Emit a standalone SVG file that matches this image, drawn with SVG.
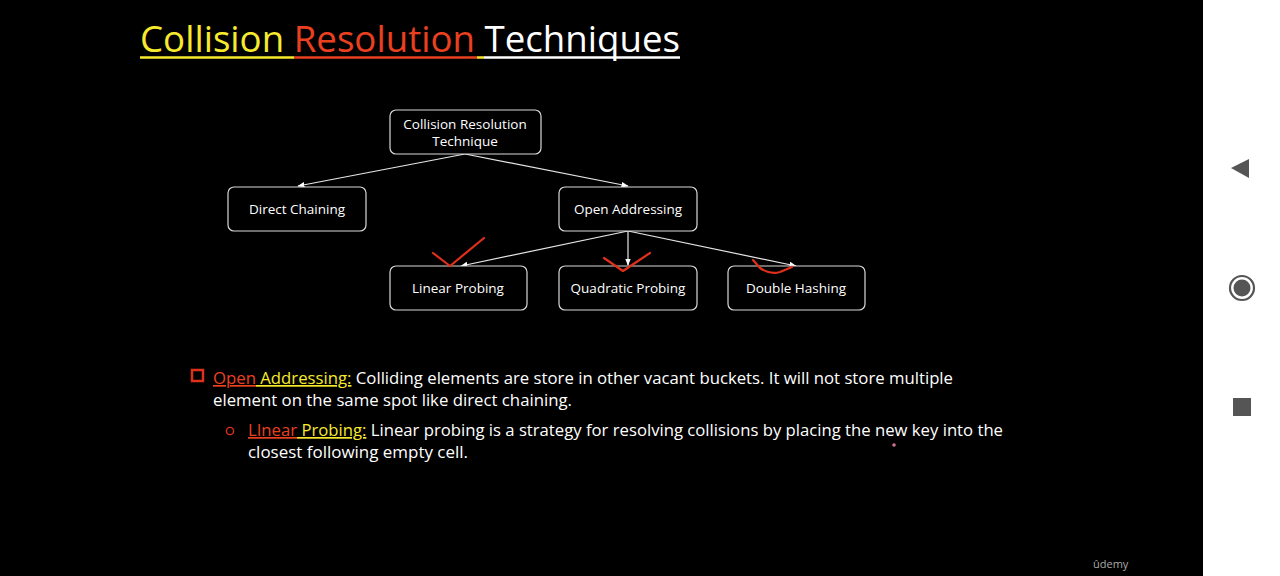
<svg xmlns="http://www.w3.org/2000/svg" width="1280" height="576" viewBox="0 0 1280 576">
<style>
.node rect{fill:#000;stroke:#d9d9d9;stroke-width:1.2}
.node text{fill:#fff;font-family:"Open Sans","Liberation Sans",sans-serif;font-size:13.5px;text-anchor:middle}
.conn line{stroke:#e6e6e6;stroke-width:1.2}
.body{font-family:"Open Sans","Liberation Sans",sans-serif;font-size:17px;fill:#fff}
.check{fill:none;stroke:#e0301c;stroke-width:2.2;stroke-linecap:round;stroke-linejoin:round}
</style>
<defs>
<marker id="ah" viewBox="0 0 10 10" refX="9" refY="5" markerWidth="6" markerHeight="6" orient="auto">
<path d="M0,1 L10,5 L0,9 Z" fill="#fff"/>
</marker>
</defs>
<rect x="0" y="0" width="1280" height="576" fill="#000"/>
<rect x="1203" y="0" width="77" height="576" fill="#fff"/>
<g id="title">
<text x="140" y="52" font-family="Open Sans,Liberation Sans,sans-serif" font-size="37" textLength="540" lengthAdjust="spacingAndGlyphs"><tspan fill="#f7ea2d">Collision </tspan><tspan fill="#ea4020">Resolution </tspan><tspan fill="#fff">Techniques</tspan></text>
<line x1="140" y1="57.5" x2="294" y2="57.5" stroke="#f7ea2d" stroke-width="2.5"/>
<line x1="294" y1="57.5" x2="477" y2="57.5" stroke="#ea4020" stroke-width="2.5"/>
<line x1="477" y1="57.5" x2="484" y2="57.5" stroke="#f7ea2d" stroke-width="2.5"/>
<line x1="484" y1="57.5" x2="680" y2="57.5" stroke="#fff" stroke-width="2.5"/>
</g>
<g class="conn" id="connectors">
<line x1="465" y1="154" x2="298" y2="186" marker-end="url(#ah)"/>
<line x1="465" y1="154" x2="628" y2="186" marker-end="url(#ah)"/>
<line x1="628" y1="231" x2="461" y2="266" marker-end="url(#ah)"/>
<line x1="628" y1="231" x2="628" y2="265" marker-end="url(#ah)"/>
<line x1="628" y1="231" x2="796" y2="266" marker-end="url(#ah)"/>
</g>
<g class="node" id="root"><rect x="390" y="110" width="151" height="44" rx="6"/><text x="465" y="129">Collision Resolution</text><text x="465" y="146">Technique</text></g>
<g class="node" id="direct"><rect x="228" y="187" width="138" height="44" rx="6"/><text x="297" y="214">Direct Chaining</text></g>
<g class="node" id="open"><rect x="559" y="187" width="138" height="44" rx="6"/><text x="628" y="214">Open Addressing</text></g>
<g class="node" id="linear"><rect x="390" y="266" width="137" height="44" rx="6"/><text x="458" y="293">Linear Probing</text></g>
<g class="node" id="quad"><rect x="559" y="266" width="138" height="44" rx="6"/><text x="628" y="293">Quadratic Probing</text></g>
<g class="node" id="double"><rect x="728" y="266" width="137" height="44" rx="6"/><text x="796" y="293">Double Hashing</text></g>
<g id="marks">
<path class="check" d="M433,253 L450,266 L484,238"/>
<path class="check" d="M604,258 L623,271 L650,253"/>
<path class="check" d="M753,260 L760,268 Q770,275 780,272 L792,267"/>
<circle cx="894" cy="445" r="1.8" fill="#d07090"/>
</g>
<g id="text">
<rect x="192" y="370" width="11" height="11" fill="none" stroke="#e0301c" stroke-width="2.5"/>
<text class="body" x="213" y="384" textLength="740" lengthAdjust="spacingAndGlyphs"><tspan fill="#ea4020" text-decoration="underline">Open</tspan><tspan fill="#f7ea2d" text-decoration="underline"> Addressing:</tspan> Colliding elements are store in other vacant buckets. It will not store multiple</text>
<text class="body" x="213" y="406" textLength="359" lengthAdjust="spacingAndGlyphs">element on the same spot like direct chaining.</text>
<circle cx="230" cy="431" r="3.6" fill="none" stroke="#e0301c" stroke-width="1.4"/>
<text class="body" x="248" y="436" textLength="755" lengthAdjust="spacingAndGlyphs"><tspan fill="#ea4020" text-decoration="underline">LInear</tspan><tspan fill="#f7ea2d" text-decoration="underline"> Probing:</tspan> Linear probing is a strategy for resolving collisions by placing the new key into the</text>
<text class="body" x="248" y="458" textLength="220" lengthAdjust="spacingAndGlyphs">closest following empty cell.</text>
</g>
<g id="navbar" fill="#555">
<path d="M1231,168 L1249,159 L1249,178 Z"/>
<circle cx="1242" cy="288" r="12" fill="none" stroke="#555" stroke-width="2.2"/>
<circle cx="1242" cy="288" r="8.5"/>
<rect x="1233" y="398" width="18" height="18"/>
</g>
<text x="1093" y="568" font-family="Open Sans,Liberation Sans,sans-serif" font-size="11" fill="#aaa">ûdemy</text>
</svg>
